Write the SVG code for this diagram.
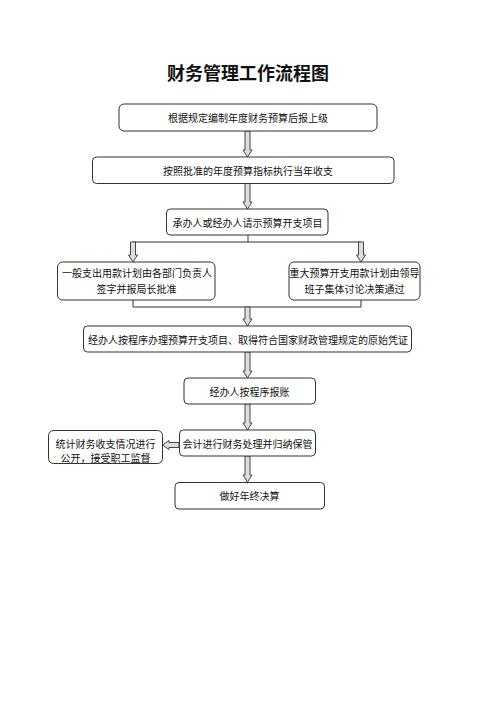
<svg xmlns="http://www.w3.org/2000/svg" width="496" height="702" viewBox="0 0 496 702">
<style>
.box{fill:#fff;stroke:#333;stroke-width:1}
.t{font-family:"Noto Sans CJK SC","Liberation Sans",sans-serif;font-size:10px;fill:#111;text-anchor:middle;dominant-baseline:central}
.title{font-family:"Noto Sans CJK SC","Liberation Sans",sans-serif;font-size:18px;font-weight:bold;fill:#111;text-anchor:middle}
.arr{fill:#ddd;stroke:#333;stroke-width:0.9}
.ln{fill:none;stroke:#333;stroke-width:1}
</style>
<rect width="496" height="702" fill="#fff"/>
<text class="title" x="248" y="80">财务管理工作流程图</text>
<g id="connectors">
<path class="arr" d="M245 131V150H243L247.5 157L252 150H250V131Z"/>
<path class="arr" d="M245 183V202H243L247.5 209L252 202H250V183Z"/>
<path class="ln" d="M248 235V242M133 242H361"/>
<path class="arr" d="M130.5 242V255H128.5L133 262L137.5 255H135.5V242Z"/>
<path class="arr" d="M358.5 242V255H356.5L361 262L365.5 255H363.5V242Z"/>
<path class="ln" d="M133 300V307H361V300"/>
<path class="arr" d="M245 307V319H243L247.5 326L252 319H250V307Z"/>
<path class="arr" d="M245 352V371H243L247.5 378L252 371H250V352Z"/>
<path class="arr" d="M245 404V423H243L247.5 430L252 423H250V404Z"/>
<path class="arr" d="M179 442.5H169V440.5L162.5 445L169 449.5V447.5H179Z"/>
<path class="arr" d="M245 456V475H243L247.5 482L252 475H250V456Z"/>
</g>
<g id="n1"><rect class="box" x="119" y="104" width="258" height="27" rx="5"/><text class="t" x="248" y="117.5">根据规定编制年度财务预算后报上级</text></g>
<g id="n2"><rect class="box" x="92.5" y="157" width="301.5" height="26.5" rx="4"/><text class="t" x="248" y="170">按照批准的年度预算指标执行当年收支</text></g>
<g id="n3"><rect class="box" x="166.5" y="209" width="161.5" height="26" rx="4"/><text class="t" x="247.5" y="222">承办人或经办人请示预算开支项目</text></g>
<g id="n4"><rect class="box" x="57.5" y="262" width="157.5" height="38" rx="5"/><text class="t" x="137" y="272">一般支出用款计划由各部门负责人</text><text class="t" x="136.5" y="288">签字并报局长批准</text></g>
<g id="n5"><rect class="box" x="289" y="262" width="131" height="38" rx="5"/><text class="t" x="354.5" y="272">重大预算开支用款计划由领导</text><text class="t" x="354.5" y="288">班子集体讨论决策通过</text></g>
<g id="n6"><rect class="box" x="83.5" y="326" width="328" height="26" rx="4"/><text class="t" x="248" y="339">经办人按程序办理预算开支项目、取得符合国家财政管理规定的原始凭证</text></g>
<g id="n7"><rect class="box" x="184" y="378" width="131.5" height="26" rx="4"/><text class="t" x="249.5" y="391">经办人按程序报账</text></g>
<g id="n8"><rect class="box" x="179.5" y="430" width="136" height="26" rx="4"/><text class="t" x="247.5" y="443">会计进行财务处理并归纳保管</text></g>
<g id="n9"><rect class="box" x="48.5" y="430.5" width="114" height="33" rx="5"/><text class="t" x="105.5" y="443">统计财务收支情况进行</text><text class="t" x="105.5" y="457">公开，接受职工监督</text></g>
<g id="n10"><rect class="box" x="175" y="482.5" width="149.5" height="26.5" rx="4"/><text class="t" x="249.5" y="495.5">做好年终决算</text></g>
</svg>
